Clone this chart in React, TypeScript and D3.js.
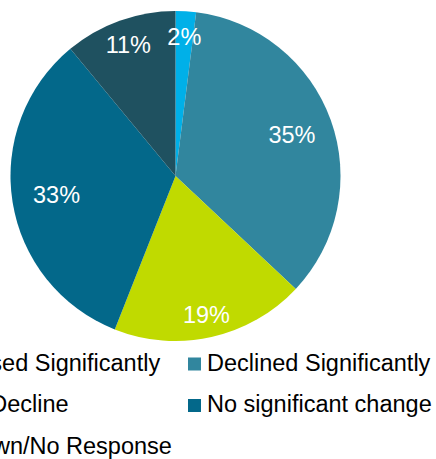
import React from "react";
import * as d3 from "d3";

// Survey responses, share of respondents (%)
const categories = [
  "Increased Significantly",
  "Declined Significantly",
  "Slight Decline",
  "No significant change",
  "Unknown/No Response",
];
const values = [2, 35, 19, 33, 11];
const colors = ["#00B0E8", "#31869E", "#C0DA00", "#03688A", "#1F5160"];

const WIDTH = 436;
const HEIGHT = 459;
const CX = 175.5;
const CY = 176;
const RADIUS = 165;
const FONT = "'Liberation Sans', Arial, Helvetica, sans-serif";
const FONT_SIZE = 23.5;

// radial placement of each percentage label, as a fraction of the radius
const labelRadius = [0.85, 0.75, 0.86, 0.73, 0.845];

type Row = { name: string; value: number; color: string };

export default function App() {
  const rows: Row[] = categories.map((name, i) => ({
    name,
    value: values[i],
    color: colors[i],
  }));

  const pie = d3
    .pie<Row>()
    .sort(null)
    .value((d) => d.value)
    .startAngle(0)
    .endAngle(2 * Math.PI);
  const arcs = pie(rows);
  const arc = d3.arc<d3.PieArcDatum<Row>>().innerRadius(0).outerRadius(RADIUS);

  // two-column legend below the pie
  const colX = d3.scaleOrdinal<number, number>().domain([0, 1]).range([-94, 188]);
  const rowY = d3.scaleLinear().domain([0, 1]).range([370.5, 412]);

  return (
    <svg
      width={WIDTH}
      height={HEIGHT}
      style={{ position: "absolute", left: 0, top: 0, background: "#fff" }}
      fontFamily={FONT}
    >
      <g transform={`translate(${CX},${CY})`}>
        {arcs.map((a, i) => (
          <path key={i} d={arc(a) ?? ""} fill={a.data.color} />
        ))}
        {arcs.map((a, i) => {
          const mid = (a.startAngle + a.endAngle) / 2;
          const r = RADIUS * labelRadius[i];
          const x = Math.sin(mid) * r;
          const y = -Math.cos(mid) * r;
          return (
            <text
              key={i}
              x={x}
              y={y}
              dy="0.36em"
              textAnchor="middle"
              fill="#fff"
              fontSize={FONT_SIZE}
            >
              {`${a.data.value}%`}
            </text>
          );
        })}
      </g>
      <g>
        {rows.map((d, i) => {
          const x = colX(i % 2);
          const y = rowY(Math.floor(i / 2));
          return (
            <g key={i}>
              <rect x={x} y={y - 13} width={13} height={13} fill={d.color} />
              <text x={x + 19} y={y} fontSize={FONT_SIZE} fill="#000">
                {d.name}
              </text>
            </g>
          );
        })}
      </g>
    </svg>
  );
}
